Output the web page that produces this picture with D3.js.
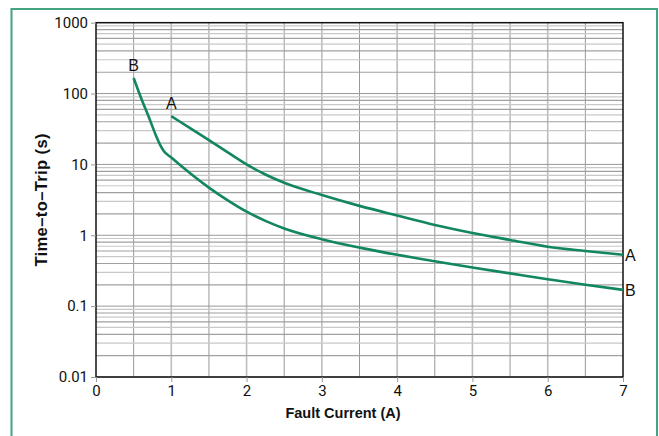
<!DOCTYPE html>
<html>
<head>
<meta charset="utf-8">
<script src="https://cdn.jsdelivr.net/npm/d3@7"></script>
<style>
  body { margin: 0; background: #fff; }
  svg { display: block; font-family: "Liberation Sans", Arial, sans-serif; }
</style>
</head>
<body>
<svg></svg>
<script>
const width = 659;
const height = 436;

// curve data
const curveA = [
  [1, 48], [1.25, 32.5], [1.5, 22], [1.75, 14.8], [2, 10],
  [2.25, 7.2], [2.5, 5.5], [3, 3.7], [3.5, 2.6], [4, 1.9], [4.5, 1.4],
  [5, 1.08], [5.5, 0.86], [6, 0.69], [6.5, 0.6], [7, 0.53]
];
const curveB = [
  [0.5, 166], [0.6, 86], [0.7, 47], [0.8, 25], [0.85, 19], [0.9, 15.5],
  [1, 12.5], [1.25, 7.5], [1.5, 4.7], [1.75, 3.1], [2, 2.15], [2.25, 1.6],
  [2.5, 1.25], [3, 0.88], [3.5, 0.67], [4, 0.53], [4.5, 0.43], [5, 0.35],
  [5.5, 0.29], [6, 0.24], [6.5, 0.2], [7, 0.17]
];
const xTicks = [0, 1, 2, 3, 4, 5, 6, 7];
const yTicks = [0.01, 0.1, 1, 10, 100, 1000];
const yTickLabels = ["0.01", "0.1", "1", "10", "100", "1000"];

const plot = { left: 96, right: 623, top: 22.7, bottom: 377 };

const svg = d3.select("svg").attr("width", width).attr("height", height);

// outer green frame (open at the bottom)
svg.append("path")
  .attr("d", `M11.5,${height + 5}V9H657V${height + 5}`)
  .attr("fill", "none")
  .attr("stroke", "#45a37f")
  .attr("stroke-width", 2);

const x = d3.scaleLinear().domain([0, 7]).range([plot.left, plot.right]);
const y = d3.scaleLog().domain([0.01, 1000]).range([plot.bottom, plot.top]);

//grid - vertical
const grid = svg.append("g");
d3.range(0.5, 7, 0.5).forEach((v) => {
  grid.append("line")
    .attr("x1", x(v)).attr("x2", x(v))
    .attr("y1", plot.top).attr("y2", plot.bottom)
    .attr("stroke", Number.isInteger(v) ? "#bdbdbd" : "#999")
    .attr("stroke-width", Number.isInteger(v) ? 1.6 : 1);
});

//grid - horizontal log lines
yTicks.slice(0, -1).forEach((d) => {
  for (let k = 1; k <= 9; k++) {
    const v = d * k;
    grid.append("line")
      .attr("x1", plot.left).attr("x2", plot.right)
      .attr("y1", y(v)).attr("y2", y(v))
      .attr("stroke", k === 1 ? "#999" : (k % 2 === 0 ? "#a0a0a0" : "#c8c8c8"))
      .attr("stroke-width", k === 1 ? 1 : 1.2);
  }
});

// frame of the plot
svg.append("rect")
  .attr("x", plot.left).attr("y", plot.top)
  .attr("width", plot.right - plot.left)
  .attr("height", plot.bottom - plot.top)
  .attr("fill", "none")
  .attr("stroke", "#111")
  .attr("stroke-width", 1.5);

//axes
const xAxis = d3.axisBottom(x).tickValues(xTicks).tickSize(5).tickPadding(3)
  .tickFormat(d3.format("d"));
const yAxis = d3.axisLeft(y).tickValues(yTicks).tickSize(5).tickPadding(3)
  .tickFormat((d, i) => yTickLabels[i]);

const gx = svg.append("g")
  .attr("transform", `translate(0,${plot.bottom})`)
  .call(xAxis);
const gy = svg.append("g")
  .attr("transform", `translate(${plot.left},0)`)
  .call(yAxis);

[gx, gy].forEach((g) => {
  g.select(".domain").remove();
  g.selectAll(".tick line").attr("stroke", "#999");
  g.selectAll(".tick text")
    .attr("font-size", 15)
    .attr("fill", "#111")
    .attr("font-family", "Roboto, 'Liberation Sans', sans-serif");
});

//curves
const line = d3.line()
  .x((d) => x(d[0]))
  .y((d) => y(d[1]))
  .curve(d3.curveMonotoneX);

svg.append("g")
  .selectAll("path")
  .data([curveA, curveB])
  .enter()
  .append("path")
  .attr("d", line)
  .attr("fill", "none")
  .attr("stroke", "#12875e")
  .attr("stroke-width", 2.6);

//curve labels
const labels = [
  { text: "B", d: curveB[0], dx: 0, dy: -7, anchor: "middle" },
  { text: "A", d: curveA[0], dx: 0, dy: -7, anchor: "middle" },
  { text: "A", d: curveA[curveA.length - 1], dx: 2, dy: 6, anchor: "start" },
  { text: "B", d: curveB[curveB.length - 1], dx: 2, dy: 6, anchor: "start" }
];
svg.append("g")
  .selectAll("text")
  .data(labels)
  .enter()
  .append("text")
  .attr("x", (d) => x(d.d[0]) + d.dx)
  .attr("y", (d) => y(d.d[1]) + d.dy)
  .attr("text-anchor", (d) => d.anchor)
  .attr("font-size", 16)
  .attr("fill", "#111")
  .text((d) => d.text);

//axis titles
svg.append("text")
  .attr("x", 343)
  .attr("y", 418)
  .attr("text-anchor", "middle")
  .attr("font-size", 14.5)
  .attr("font-weight", "bold")
  .attr("fill", "#111")
  .text("Fault Current (A)");

svg.append("text")
  .attr("transform", `translate(47,${(plot.top + plot.bottom) / 2}) rotate(-90)`)
  .attr("text-anchor", "middle")
  .attr("font-size", 16.5)
  .attr("font-weight", "bold")
  .attr("letter-spacing", 0.4)
  .attr("fill", "#111")
  .text("Time–to–Trip (s)");
</script>
</body>
</html>
